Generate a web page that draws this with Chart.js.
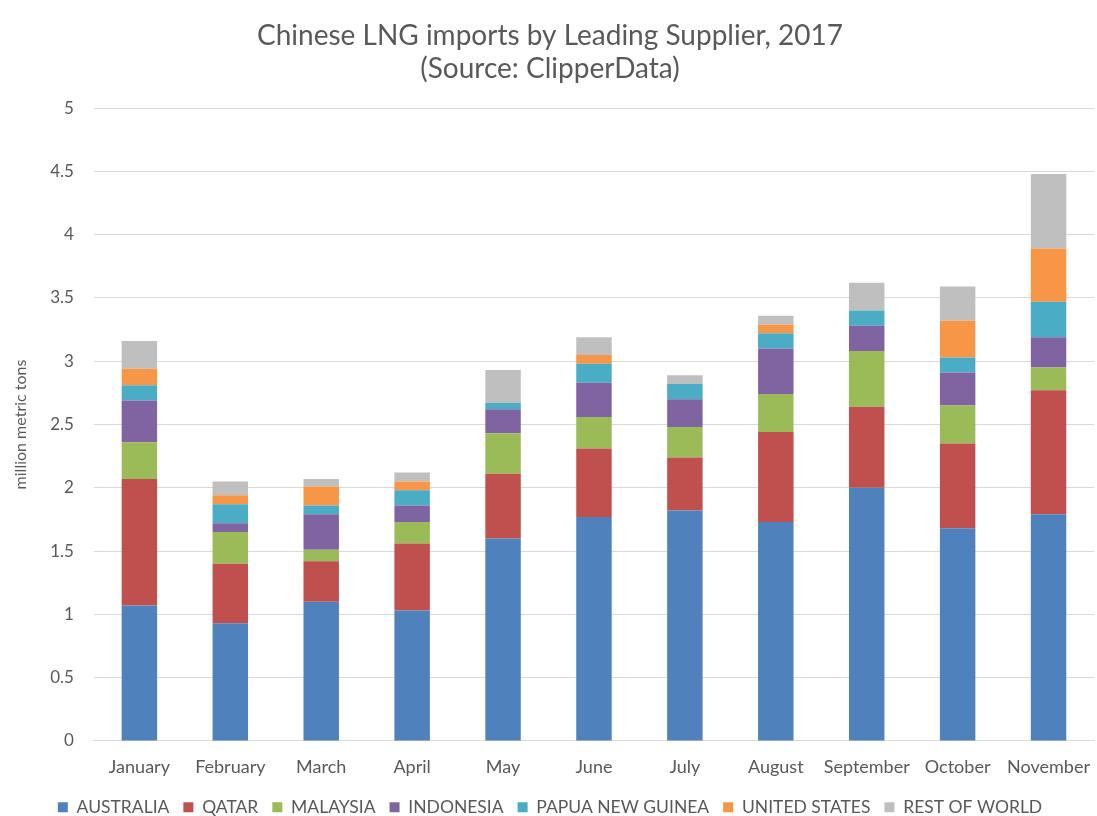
<!DOCTYPE html>
<html>
<head>
<meta charset="utf-8">
<script src="https://cdn.jsdelivr.net/npm/chart.js@4/dist/chart.umd.min.js"></script>
<style>
  body { margin: 0; background: #fff; }
  #wrap { width: 1097px; height: 816px; }
</style>
</head>
<body>
<div id="wrap"><canvas id="grafico"></canvas></div>
<script>
// dados (milhoes de toneladas)
var meses = ['January', 'February', 'March', 'April', 'May', 'June', 'July', 'August', 'September', 'October', 'November'];
var australia = [1.07, 0.93, 1.10, 1.03, 1.60, 1.77, 1.82, 1.73, 2.00, 1.68, 1.79];
var qatar     = [1.00, 0.47, 0.32, 0.53, 0.51, 0.54, 0.42, 0.71, 0.64, 0.67, 0.98];
var malaysia  = [0.29, 0.25, 0.09, 0.17, 0.32, 0.25, 0.24, 0.30, 0.44, 0.30, 0.18];
var indonesia = [0.33, 0.07, 0.28, 0.13, 0.19, 0.27, 0.22, 0.36, 0.20, 0.26, 0.24];
var papua     = [0.12, 0.15, 0.07, 0.12, 0.05, 0.15, 0.12, 0.12, 0.12, 0.12, 0.28];
var eua       = [0.13, 0.07, 0.15, 0.07, 0, 0.07, 0, 0.07, 0, 0.29, 0.42];
var resto     = [0.22, 0.11, 0.06, 0.07, 0.26, 0.14, 0.07, 0.07, 0.22, 0.27, 0.59];
var marcasY = [0, 0.5, 1, 1.5, 2, 2.5, 3, 3.5, 4, 4.5, 5];

var fonte = 'Lato, "Open Sans", sans-serif';
var cinzaTexto = '#595959';

function serie(nome, valores, cor) {
    return {
        label: nome,
        data: valores,
        backgroundColor: cor,
        borderWidth: 0,
        barPercentage: 0.39,
        categoryPercentage: 1
    };
}

var config = {
    type: 'bar',
    data: {
        labels: meses,
        datasets: [
            serie('AUSTRALIA', australia, '#4F81BD'),
            serie('QATAR', qatar, '#C0504D'),
            serie('MALAYSIA', malaysia, '#9BBB59'),
            serie('INDONESIA', indonesia, '#8064A2'),
            serie('PAPUA NEW GUINEA', papua, '#4BACC6'),
            serie('UNITED STATES', eua, '#F79646'),
            serie('REST OF WORLD', resto, '#BFBFBF')
        ]
    },
    options: {
        responsive: true,
        maintainAspectRatio: false,
        animation: false,
        // fundo negativo empurra a legenda para perto da borda, como no original
        layout: { padding: { left: 3, right: 0, top: 10, bottom: -10 } },
        plugins: {
            title: {
                display: true,
                text: ['Chinese LNG imports by Leading Supplier, 2017', '(Source: ClipperData)'],
                color: cinzaTexto,
                font: { family: fonte, size: 28, weight: 'normal', lineHeight: 1.18 },
                padding: { top: 9, bottom: 23 }
            },
            legend: {
                position: 'bottom',
                labels: {
                    color: cinzaTexto,
                    font: { family: fonte, size: 17.5 },
                    boxWidth: 10,
                    boxHeight: 10,
                    padding: 14
                }
            },
            tooltip: { enabled: false }
        },
        scales: {
            x: {
                stacked: true,
                grid: { display: false },
                border: { color: '#D9D9D9' },
                ticks: { color: cinzaTexto, font: { family: fonte, size: 18 }, maxRotation: 0, autoSkip: false, padding: 7 }
            },
            y: {
                stacked: true,
                min: 0,
                max: 5,
                afterBuildTicks: function (eixo) {
                    eixo.ticks = marcasY.map(function (v) { return { value: v }; });
                },
                grid: { color: '#D9D9D9', drawTicks: false },
                border: { display: false },
                ticks: {
                    color: cinzaTexto,
                    font: { family: fonte, size: 17 },
                    padding: 20,
                    callback: function (v) { return String(v); }
                },
                title: {
                    display: true,
                    text: 'million metric tons',
                    color: cinzaTexto,
                    font: { family: fonte, size: 16 },
                    padding: { top: 8, bottom: 0 }
                }
            }
        }
    }
};

new Chart(document.getElementById('grafico'), config);
</script>
</body>
</html>
